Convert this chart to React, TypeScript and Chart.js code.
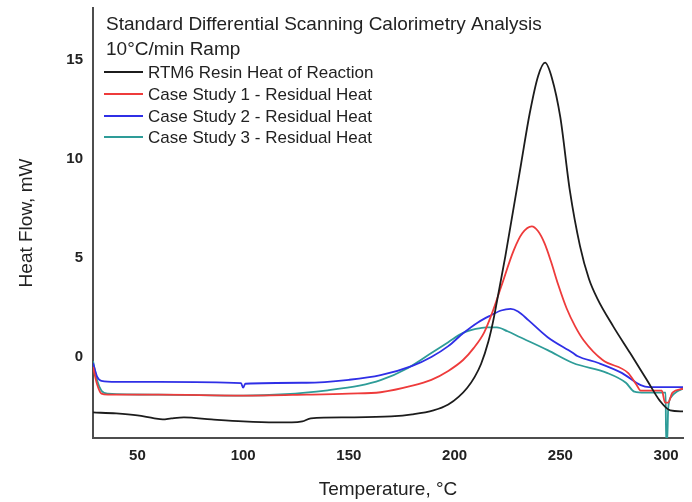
import React, { useEffect, useRef } from "react";
import Chart from "chart.js/auto";

const titleLines = ["Standard Differential Scanning Calorimetry Analysis", "10°C/min Ramp"];
const seriesNames = [
  "RTM6 Resin Heat of Reaction",
  "Case Study 1 - Residual Heat",
  "Case Study 2 - Residual Heat",
  "Case Study 3 - Residual Heat",
];
const seriesColors = ["#1c1c1c", "#ee3b3b", "#2f2fe6", "#2e9c98"];
const xTicks = [50, 100, 150, 200, 250, 300];
const yTicks = [0, 5, 10, 15];

// [temperature °C, heat flow mW]
const rtm6: number[][] = [
  [29, -2.8], [40, -2.85], [50, -2.95], [58, -3.1], [62, -3.15], [66, -3.1], [72, -3.05],
  [85, -3.15], [100, -3.25], [115, -3.3], [123, -3.3], [128, -3.25], [132, -3.1],
  [150, -3.05], [170, -3.0], [180, -2.9], [190, -2.7], [197, -2.4], [202, -2.0],
  [206, -1.55], [209.5, -1.0], [212.5, -0.35], [216, 0.8], [218, 1.7], [220, 2.8],
  [224, 5.1], [228, 7.6], [231.5, 9.8], [235.5, 12.3], [239.5, 14.2], [242.8, 14.87],
  [246, 14.1], [250, 12.1], [254.5, 8.4], [259.3, 5.6], [263.5, 3.95], [267.5, 2.95],
  [275, 1.55], [283, 0.2], [291, -1.17], [297, -2.2], [302, -2.7], [308, -2.75],
];
const case1: number[][] = [
  [29, -0.5], [31, -1.4], [33, -1.85], [36, -1.9], [60, -1.9], [100, -1.95], [130, -1.9],
  [150, -1.85], [165, -1.78], [180, -1.45], [189, -1.15], [197, -0.7], [204, -0.15],
  [209, 0.45], [214, 1.25], [218, 2.3], [222, 3.55], [228, 5.4], [232, 6.25], [236.5, 6.6],
  [239.5, 6.35], [242.5, 5.75], [245.5, 4.85], [249, 3.65], [253, 2.45], [257, 1.55],
  [261, 0.85], [270, -0.15], [282, -0.8], [286, -1.4], [288, -1.7], [298, -1.7],
  [299.5, -2.3], [301, -2.3], [303, -1.8], [308, -1.6],
];
const case2: number[][] = [
  [29, -0.3], [31, -1.0], [33, -1.2], [40, -1.25], [60, -1.25], [99, -1.32], [100, -1.55],
  [101, -1.35], [130, -1.3], [150, -1.15], [165, -0.92], [180, -0.45], [189, 0.0],
  [197, 0.55], [204, 1.2], [211, 1.75], [217, 2.1], [222, 2.35], [226.5, 2.43], [230, 2.3],
  [235, 1.85], [244, 1.0], [256, 0.2], [258, 0.05], [268, -0.3], [279, -0.8], [288, -1.42],
  [292, -1.52], [308, -1.52],
];
const case3: number[][] = [
  [29, -0.2], [31, -1.2], [33, -1.7], [36, -1.85], [60, -1.9], [100, -1.95], [120, -1.88],
  [140, -1.68], [155, -1.45], [165, -1.17], [178, -0.55], [189, 0.2], [197, 0.75],
  [204, 1.22], [210, 1.42], [215, 1.5], [220, 1.5], [225, 1.3], [231, 1.0], [244, 0.35],
  [256, -0.3], [272, -0.8], [281, -1.3], [285, -1.75], [290, -1.8], [299.8, -1.8],
  [300, -4.3], [300.5, -4.3], [301, -2.6], [302.5, -2.0], [305, -1.75], [308, -1.6],
];

const seriesData = [rtm6, case1, case2, case3];
const FONT = "'Liberation Sans', Arial, sans-serif";

const overlayPlugin = {
  id: "overlayText",
  afterDraw(chart: any) {
    const ctx = chart.ctx;
    ctx.save();
    ctx.fillStyle = "#222";
    ctx.textAlign = "left";
    ctx.textBaseline = "alphabetic";
    ctx.font = `19px ${FONT}`;
    ctx.fillText(titleLines[0], 106, 30);
    ctx.fillText(titleLines[1], 106, 55);
    ctx.font = `17px ${FONT}`;
    const base = [78, 100, 122, 143];
    seriesNames.forEach((name, i) => {
      const y = base[i] - 6;
      ctx.strokeStyle = seriesColors[i];
      ctx.lineWidth = 2;
      ctx.beginPath();
      ctx.moveTo(104, y);
      ctx.lineTo(143, y);
      ctx.stroke();
      ctx.fillText(name, 148, base[i]);
    });
    ctx.restore();
  },
};

export default function App() {
  const ref = useRef<HTMLCanvasElement>(null);
  useEffect(() => {
    if (!ref.current) return;
    const chart = new Chart(ref.current, {
      type: "line",
      data: {
        datasets: seriesData.map((d, i) => ({
          label: seriesNames[i],
          data: d.map(([x, y]) => ({ x, y })),
          borderColor: seriesColors[i],
          backgroundColor: seriesColors[i],
          borderWidth: 1.8,
          pointRadius: 0,
          cubicInterpolationMode: "monotone" as const,
          fill: false,
        })),
      },
      options: {
        animation: false,
        responsive: true,
        maintainAspectRatio: false,
        layout: { padding: { top: 8, right: 9, left: 0, bottom: 0 } },
        plugins: { legend: { display: false }, tooltip: { enabled: false } },
        scales: {
          x: {
            type: "linear",
            min: 29,
            max: 308,
            grid: { display: false, drawTicks: false },
            border: { display: true, color: "#4d4d4d", width: 2 },
            ticks: { font: { family: FONT, size: 15, weight: "bold" }, color: "#222", padding: 9 },
            afterBuildTicks: (s: any) => { s.ticks = xTicks.map((v) => ({ value: v })); },
            afterFit: (s: any) => { s.height = 64; s.paddingLeft = 0; s.paddingRight = 0; },
            title: {
              display: true,
              text: "Temperature, °C",
              font: { family: FONT, size: 19 },
              color: "#222",
              padding: { top: 0, bottom: 1 },
            },
          },
          y: {
            type: "linear",
            min: -4.09,
            max: 17.63,
            grid: { display: false, drawTicks: false },
            border: { display: true, color: "#4d4d4d", width: 2 },
            ticks: { font: { family: FONT, size: 15, weight: "bold" }, color: "#222", padding: 10 },
            afterBuildTicks: (s: any) => { s.ticks = yTicks.map((v) => ({ value: v })); },
            afterFit: (s: any) => { s.width = 93; s.paddingTop = 0; s.paddingBottom = 0; },
            title: {
              display: true,
              text: "Heat Flow, mW",
              font: { family: FONT, size: 19 },
              color: "#222",
              padding: { top: 15, bottom: 0 },
            },
          },
        },
      },
      plugins: [overlayPlugin],
    });
    return () => chart.destroy();
  }, []);
  return (
    <div style={{ position: "fixed", left: 0, top: 0, width: 692, height: 502, background: "#fff" }}>
      <canvas ref={ref} />
    </div>
  );
}
